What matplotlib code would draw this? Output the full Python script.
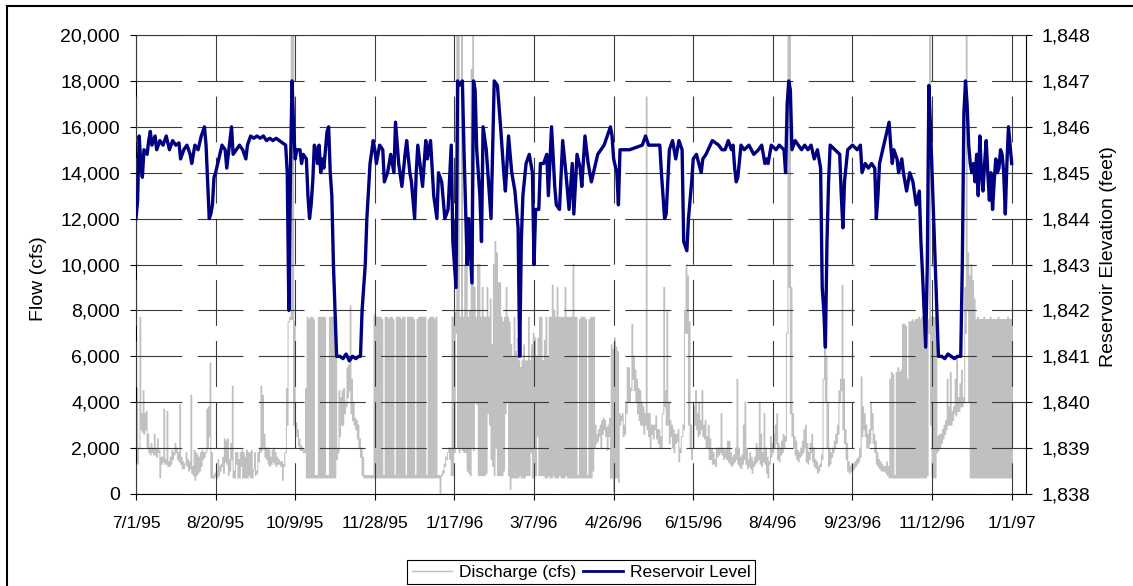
import numpy as np
import pandas as pd
import matplotlib
matplotlib.use("Agg")
import matplotlib.pyplot as plt
from matplotlib.lines import Line2D
from matplotlib.ticker import FuncFormatter

plt.rcParams["font.family"] = ["Liberation Sans", "DejaVu Sans"]
plt.rcParams["lines.scale_dashes"] = False

START = "1995-07-01"

# daily discharge, low / high of the day, in 1000 cfs (day 0 = 7/1/95)
flow_lo = [
    1.5, 1.3, 2.0, 2.8, 2.7, 2.6, 2.8, 2.0, 1.8, 1.7,   # 0
    1.8, 1.7, 1.7, 1.6, 1.8, 0.7, 1.3, 1.4, 1.3, 1.3,   # 10
    1.2, 1.2, 1.3, 1.5, 1.7, 1.8, 1.5, 1.4, 1.3, 1.1,   # 20
    1.1, 1.3, 1.2, 1.0, 1.1, 0.9, 0.8, 0.6, 0.8, 0.9,   # 30
    1.0, 1.2, 1.5, 1.6, 1.8, 2.0, 2.5, 0.7, 0.7, 0.7,   # 40
    0.8, 0.7, 0.8, 1.0, 1.2, 0.9, 1.4, 1.3, 0.8, 1.0,   # 50
    1.5, 0.7, 0.7, 1.3, 0.7, 0.7, 1.2, 0.7, 0.7, 0.7,   # 60
    0.7, 0.8, 0.7, 0.7, 1.1, 0.8, 0.9, 1.4, 1.8, 1.9,   # 70
    2.0, 1.6, 1.5, 1.3, 1.2, 1.3, 1.4, 1.3, 1.2, 1.3,   # 80
    1.3, 1.2, 0.6, 1.2, 1.8, 3.0, 7.5, 7.6, 7.6, 3.0,   # 90
    2.8, 2.5, 2.1, 1.9, 1.9, 1.8, 1.8, 0.7, 0.7, 0.7,   # 100
    0.7, 0.7, 0.7, 0.7, 0.7, 0.7, 0.7, 0.7, 0.7, 0.7,   # 110
    0.7, 0.7, 0.7, 0.7, 0.7, 0.7, 1.5, 1.8, 2.5, 3.0,   # 120
    3.0, 3.5, 3.8, 4.2, 4.5, 3.5, 3.2, 3.0, 2.8, 2.4,   # 130
    2.0, 1.6, 0.8, 0.7, 0.7, 0.7, 0.7, 0.7, 0.7, 0.7,   # 140
    0.7, 0.7, 0.7, 0.7, 0.7, 0.7, 0.7, 0.7, 0.7, 0.7,   # 150
    0.7, 0.7, 0.7, 0.7, 0.7, 0.7, 0.7, 0.7, 0.7, 0.7,   # 160
    0.7, 0.7, 0.7, 0.7, 0.7, 0.7, 0.7, 0.7, 0.7, 0.7,   # 170
    0.7, 0.7, 0.7, 0.7, 0.7, 0.7, 0.7, 0.7, 0.7, 0.7,   # 180
    0.7, 0.0, 0.8, 0.9, 1.2, 1.5, 1.8, 1.5, 0.8, 0.8,   # 190
    1.8, 7.0, 2.0, 1.8, 2.0, 1.9, 1.8, 1.8, 1.0, 0.9,   # 200
    0.8, 2.0, 1.9, 4.0, 3.9, 0.8, 0.8, 0.8, 0.8, 0.8,   # 210
    0.9, 3.5, 3.0, 1.5, 1.2, 0.8, 2.0, 0.8, 0.8, 0.8,   # 220
    0.8, 1.0, 3.5, 4.0, 0.8, 0.2, 0.7, 0.7, 0.7, 0.7,   # 230
    0.7, 0.8, 0.7, 0.7, 0.7, 0.8, 0.8, 0.8, 1.8, 0.7,   # 240
    0.7, 0.8, 2.5, 0.8, 0.8, 0.8, 0.8, 0.7, 0.7, 0.8,   # 250
    0.7, 0.7, 0.8, 0.7, 0.7, 0.7, 0.8, 0.7, 0.7, 0.7,   # 260
    0.8, 0.7, 0.7, 0.7, 0.7, 0.7, 0.7, 0.7, 0.7, 0.7,   # 270
    0.7, 0.7, 0.7, 0.7, 0.7, 0.7, 0.7, 1.0, 2.0, 2.2,   # 280
    2.3, 2.5, 2.0, 2.6, 2.8, 2.5, 1.9, 2.5, 0.7, 0.7,   # 290
    0.1, 0.7, 0.7, 0.5, 3.0, 3.2, 2.5, 2.6, 3.5, 4.0,   # 300
    4.0, 4.5, 5.0, 4.5, 4.0, 3.5, 3.2, 3.0, 3.0, 2.6,   # 310
    3.0, 2.8, 2.5, 2.0, 2.6, 2.4, 2.8, 2.4, 2.2, 2.0,   # 320
    2.0, 3.5, 3.8, 3.0, 3.0, 2.2, 2.5, 2.0, 1.8, 2.2,   # 330
    2.3, 1.4, 1.8, 2.5, 2.8, 7.0, 7.0, 3.0, 2.0, 1.5,   # 340
    2.0, 3.0, 2.8, 2.5, 2.6, 2.8, 2.5, 2.4, 2.0, 2.0,   # 350
    1.5, 1.5, 1.3, 1.3, 1.2, 1.6, 1.7, 1.8, 1.7, 1.5,   # 360
    1.6, 1.5, 1.4, 1.3, 1.2, 1.3, 1.4, 1.5, 1.3, 1.2,   # 370
    1.1, 1.3, 1.5, 1.3, 1.1, 1.2, 1.1, 0.9, 1.2, 1.3,   # 380
    1.4, 1.5, 1.3, 1.2, 1.4, 1.3, 0.9, 0.7, 1.3, 1.6,   # 390
    1.8, 2.0, 2.2, 1.5, 1.4, 1.7, 1.8, 2.0, 2.3, 7.0,   # 400
    9.0, 3.5, 2.5, 2.0, 1.7, 1.5, 1.4, 1.6, 1.7, 1.8,   # 410
    2.0, 1.4, 1.3, 1.5, 1.8, 1.4, 1.2, 1.1, 0.9, 1.0,   # 420
    1.2, 1.5, 5.0, 4.0, 2.0, 1.2, 1.3, 1.6, 1.8, 2.0,   # 430
    2.2, 2.6, 4.0, 4.5, 2.8, 2.2, 1.5, 1.0, 0.9, 1.0,   # 440
    1.0, 1.1, 1.2, 1.3, 1.4, 1.6, 2.5, 2.8, 2.5, 2.0,   # 450
    2.0, 2.2, 2.8, 2.2, 1.8, 1.3, 1.2, 1.1, 1.0, 1.0,   # 460
    1.0, 0.9, 0.8, 0.7, 0.7, 0.7, 0.7, 0.7, 0.7, 0.7,   # 470
    0.7, 0.7, 0.7, 0.7, 0.7, 0.7, 0.7, 0.7, 0.7, 0.7,   # 480
    0.7, 0.7, 0.7, 0.7, 0.7, 0.7, 0.7, 0.8, 7.0, 3.0,   # 490
    0.8, 0.7, 0.7, 1.8, 1.9, 2.0, 2.2, 2.4, 2.6, 2.8,   # 500
    3.0, 3.0, 3.0, 3.2, 3.5, 3.4, 3.6, 3.6, 3.8, 3.8,   # 510
    4.0, 7.0, 8.0, 4.0, 0.7, 0.7, 0.7, 0.7, 0.7, 0.7,   # 520
    0.7, 0.7, 0.7, 0.7, 0.7, 0.7, 0.7, 0.7, 0.7, 0.7,   # 530
    0.7, 0.7, 0.7, 0.7, 0.7, 0.7, 0.7, 0.7, 0.7, 0.7,   # 540
    0.7,                                                # 550
]
flow_hi = [
    4.6, 2.0, 7.7, 3.5, 4.5, 3.5, 3.6, 2.6, 2.0, 2.2,   # 0
    2.0, 2.6, 2.0, 2.4, 1.9, 1.6, 1.6, 3.7, 1.5, 3.6,   # 10
    1.4, 1.6, 1.9, 1.8, 2.2, 2.0, 1.8, 3.9, 1.6, 1.4,   # 20
    1.3, 1.8, 1.5, 1.4, 4.3, 1.2, 1.9, 1.8, 1.7, 1.6,   # 30
    1.8, 1.9, 1.8, 1.8, 3.7, 3.8, 5.7, 1.8, 0.8, 0.9,   # 40
    1.0, 1.5, 1.2, 1.3, 1.6, 2.4, 2.3, 2.4, 1.5, 2.2,   # 50
    4.7, 1.0, 1.8, 1.8, 1.5, 1.8, 1.9, 1.8, 1.6, 1.9,   # 60
    1.8, 1.8, 1.9, 1.0, 1.8, 1.0, 1.8, 2.0, 4.7, 4.3,   # 70
    2.6, 2.0, 2.0, 1.9, 1.6, 1.9, 2.0, 1.8, 1.6, 1.5,   # 80
    1.4, 1.4, 1.3, 1.8, 4.6, 7.5, 7.7, 22, 22, 7.5,     # 90
    3.1, 2.8, 2.4, 2.1, 2.0, 1.9, 4.6, 7.7, 7.6, 7.7,   # 100
    7.7, 7.6, 0.8, 0.8, 7.7, 7.7, 7.7, 7.7, 7.7, 0.8,   # 110
    0.8, 7.7, 7.7, 7.7, 7.7, 7.6, 2.0, 4.5, 4.2, 4.5,   # 120
    4.6, 4.0, 5.5, 5.6, 8.2, 5.0, 4.0, 3.3, 3.2, 3.0,   # 130
    2.4, 2.0, 1.6, 0.8, 0.8, 0.8, 0.8, 0.8, 0.8, 7.8,   # 140
    7.7, 7.7, 7.7, 7.7, 7.6, 0.8, 7.7, 7.7, 7.6, 7.7,   # 150
    7.7, 7.6, 0.8, 7.7, 7.7, 7.7, 7.6, 7.7, 7.7, 0.8,   # 160
    7.7, 7.7, 7.7, 7.7, 7.6, 0.8, 7.6, 7.7, 7.7, 7.7,   # 170
    7.7, 7.7, 0.8, 7.6, 7.7, 7.7, 7.7, 7.6, 7.7, 0.8,   # 180
    0.8, 0.8, 1.0, 1.3, 1.6, 1.8, 2.0, 2.0, 7.7, 7.7,   # 190
    7.9, 22, 22, 7.7, 22, 7.7, 10.0, 10.0, 7.7, 8.0,    # 200
    18.5, 22, 9.0, 7.7, 10.0, 10.0, 7.7, 9.0, 7.7, 7.7, # 210
    9.0, 7.7, 8.5, 6.5, 10.0, 11.0, 10.5, 9.2, 9.2, 7.7,  # 220
    7.5, 7.7, 9.0, 7.7, 7.5, 6.5, 6.0, 7.7, 6.2, 6.8,   # 230
    5.8, 5.5, 5.8, 6.5, 5.8, 5.8, 7.7, 5.8, 6.5, 7.0,   # 240
    6.8, 6.0, 6.8, 7.7, 7.7, 5.8, 6.7, 7.7, 6.0, 7.7,   # 250
    7.7, 9.1, 8.0, 7.7, 9.0, 7.7, 7.7, 7.7, 7.7, 9.0,   # 260
    7.7, 7.7, 7.7, 7.7, 10.0, 7.7, 7.7, 0.8, 7.6, 7.7,  # 270
    7.7, 7.7, 7.6, 0.8, 7.6, 7.7, 7.7, 7.7, 3.0, 2.6,   # 280
    2.8, 3.0, 3.2, 3.3, 3.2, 2.9, 3.0, 3.3, 6.5, 6.3,   # 290
    6.8, 6.4, 6.2, 3.5, 3.4, 3.5, 3.0, 4.0, 5.5, 5.5,   # 300
    4.6, 7.4, 6.0, 5.4, 5.0, 4.6, 4.5, 4.0, 3.8, 3.5,   # 310
    17.3, 3.5, 3.5, 3.0, 3.0, 3.0, 3.4, 2.8, 2.8, 2.5,  # 320
    3.5, 9.0, 4.5, 8.0, 4.0, 3.2, 3.0, 2.8, 2.6, 2.6,   # 330
    2.8, 2.0, 2.5, 3.0, 8.0, 10.0, 9.5, 7.5, 3.0, 2.0,  # 340
    3.8, 4.5, 3.5, 4.0, 3.2, 4.5, 3.0, 3.2, 2.5, 3.0,   # 350
    2.4, 2.0, 1.8, 1.5, 2.0, 2.0, 2.0, 3.5, 2.0, 1.9,   # 360
    2.0, 2.3, 2.3, 1.8, 1.6, 1.7, 2.0, 5.0, 2.0, 1.6,   # 370
    1.7, 3.0, 4.0, 2.0, 1.5, 1.8, 1.6, 1.4, 1.6, 2.2,   # 380
    2.0, 4.0, 2.6, 1.8, 3.5, 2.0, 1.6, 1.4, 2.5, 2.2,   # 390
    2.6, 3.0, 3.5, 2.2, 2.0, 2.3, 2.6, 2.5, 7.0, 22,    # 400
    22, 9.0, 3.5, 2.5, 2.3, 1.9, 1.8, 2.0, 2.3, 2.8,    # 410
    3.0, 2.2, 1.8, 2.2, 2.6, 2.0, 1.5, 1.4, 1.2, 1.3,   # 420
    1.7, 5.0, 7.8, 6.0, 4.0, 2.0, 1.8, 2.0, 2.3, 2.6,   # 430
    3.0, 4.5, 5.0, 9.1, 5.0, 2.8, 2.2, 1.4, 1.2, 1.3,   # 440
    1.3, 1.4, 1.5, 1.6, 2.0, 5.1, 3.8, 3.5, 3.0, 2.6,   # 450
    2.8, 4.0, 3.5, 2.6, 2.3, 1.8, 1.5, 1.4, 1.3, 1.2,   # 460
    1.2, 1.4, 1.2, 5.0, 5.3, 5.2, 0.8, 5.3, 5.5, 5.3,   # 470
    5.4, 7.4, 7.4, 7.3, 5.0, 7.5, 7.5, 7.6, 7.5, 7.6,   # 480
    7.6, 7.7, 7.6, 7.7, 7.6, 7.7, 7.7, 7.6, 22, 7.7,    # 490
    7.7, 7.7, 7.5, 2.5, 2.6, 2.6, 2.8, 3.0, 3.2, 5.0,   # 500
    3.8, 5.3, 3.6, 3.8, 5.0, 6.0, 4.2, 4.8, 5.4, 4.2,   # 510
    9.0, 22, 10.5, 9.5, 10.0, 9.3, 8.5, 7.6, 7.7, 7.6,  # 520
    7.6, 7.6, 7.7, 7.6, 7.6, 7.6, 7.7, 7.6, 7.6, 7.6,   # 530
    7.6, 7.7, 7.6, 7.6, 7.6, 7.6, 7.6, 7.7, 7.6, 7.6,   # 540
    7.6,                                                # 550
]

# reservoir level readings (day offset from 7/1/95, feet)
level_day = [
    0, 1, 2, 3, 4, 5, 7, 8, 9, 10, 12, 13, 15, 17, 19, 21, 23, 25, 27, 28,
    30, 32, 34, 35, 37, 39, 41, 43, 44, 45, 46, 47, 48, 49, 50, 52, 54, 56, 57, 58,
    60, 61, 63, 65, 67, 69, 70, 72, 74, 76, 78, 80, 82, 84, 86, 88, 90, 92, 94, 95,
    96, 97, 98, 99, 100, 101, 103, 104, 105, 107, 108, 109, 110, 111, 112, 113, 114, 115, 116, 117,
    118, 120, 121, 122, 123, 124, 125, 126, 128, 130, 132, 134, 136, 138, 140, 141, 142, 144, 145, 147,
    149, 150, 151, 153, 155, 156, 158, 160, 162, 163, 165, 167, 169, 170, 172, 173, 175, 176, 177, 179,
    180, 182, 183, 185, 187, 189, 190, 192, 194, 196, 198, 199, 201, 202, 203, 205, 206, 208, 209, 211,
    212, 213, 214, 216, 217, 218, 220, 222, 223, 225, 227, 229, 231, 232, 234, 236, 238, 239, 240, 241,
    242, 243, 245, 247, 249, 250, 251, 253, 254, 256, 258, 259, 261, 263, 264, 266, 268, 270, 272, 274,
    275, 277, 279, 280, 282, 284, 286, 288, 290, 292, 294, 296, 298, 299, 300, 302, 303, 304, 306, 310,
    314, 318, 320, 322, 326, 329, 330, 332, 333, 335, 337, 339, 341, 343, 344, 346, 347, 349, 350, 352,
    355, 356, 358, 362, 366, 368, 370, 372, 374, 375, 376, 377, 378, 380, 382, 385, 388, 391, 393, 395,
    396, 397, 399, 402, 404, 407, 408, 409, 410, 411, 412, 414, 416, 418, 420, 422, 424, 426, 428, 430,
    431, 432, 433, 434, 435, 436, 439, 442, 443, 444, 445, 447, 450, 453, 455, 456, 458, 460, 462, 464,
    465, 466, 467, 469, 471, 473, 474, 475, 476, 478, 479, 481, 482, 484, 486, 488, 490, 492, 493, 494,
    496, 497, 498, 499, 500, 501, 502, 503, 504, 506, 508, 510, 512, 514, 516, 518, 519, 520, 521, 522,
    523, 524, 525, 526, 527, 528, 529, 530, 531, 532, 533, 534, 535, 536, 537, 538, 539, 540, 541, 542,
    543, 544, 545, 546, 547, 548, 549, 550,
]
level_ft = [
    1844.0, 1844.4, 1845.8, 1845.2, 1844.9, 1845.5, 1845.4, 1845.7, 1845.9, 1845.6,
    1845.8, 1845.5, 1845.7, 1845.6, 1845.8, 1845.5, 1845.7, 1845.6, 1845.65, 1845.3,
    1845.5, 1845.6, 1845.4, 1845.2, 1845.6, 1845.5, 1845.8, 1846.0, 1845.6, 1844.8,
    1844.0, 1844.1, 1844.3, 1844.9, 1845.0, 1845.3, 1845.6, 1845.5, 1845.1, 1845.4,
    1846.0, 1845.4, 1845.5, 1845.6, 1845.5, 1845.3, 1845.6, 1845.8, 1845.75, 1845.8,
    1845.75, 1845.8, 1845.7, 1845.75, 1845.7, 1845.75, 1845.7, 1845.65, 1845.6, 1845.0,
    1842.0, 1845.0, 1847.0, 1846.0, 1845.3, 1845.5, 1845.5, 1845.2, 1845.4, 1845.3,
    1844.5, 1844.0, 1844.3, 1844.8, 1845.6, 1845.5, 1845.2, 1845.6, 1845.0, 1845.3,
    1845.1, 1845.9, 1846.0, 1845.0, 1844.5, 1843.0, 1842.0, 1841.0, 1841.0, 1840.95,
    1841.05, 1840.9, 1841.0, 1840.95, 1841.0, 1841.0, 1842.0, 1843.0, 1844.0, 1845.2,
    1845.7, 1845.5, 1845.2, 1845.6, 1845.5, 1844.8, 1845.0, 1845.4, 1845.0, 1846.1,
    1845.2, 1844.7, 1845.4, 1845.7, 1845.0, 1844.8, 1844.0, 1845.0, 1845.6, 1845.0,
    1844.7, 1845.7, 1845.3, 1845.7, 1844.5, 1844.0, 1845.0, 1844.8, 1844.0, 1844.2,
    1845.6, 1843.5, 1842.5, 1847.0, 1846.9, 1847.0, 1845.5, 1843.0, 1844.0, 1842.6,
    1847.0, 1846.8, 1845.5, 1844.5, 1843.5, 1846.0, 1845.5, 1844.5, 1844.0, 1847.0,
    1846.9, 1846.0, 1845.0, 1844.6, 1845.8, 1845.0, 1844.6, 1844.2, 1843.8, 1841.0,
    1843.5, 1844.5, 1845.2, 1845.4, 1845.0, 1843.0, 1844.2, 1844.2, 1845.2, 1845.2,
    1845.4, 1844.5, 1846.0, 1844.7, 1844.3, 1844.2, 1845.7, 1845.0, 1844.2, 1845.2,
    1844.1, 1845.4, 1845.1, 1844.7, 1845.8, 1845.2, 1844.8, 1845.1, 1845.4, 1845.5,
    1845.6, 1845.8, 1846.0, 1845.8, 1845.3, 1845.0, 1844.3, 1845.5, 1845.5, 1845.5,
    1845.55, 1845.6, 1845.8, 1845.6, 1845.6, 1845.6, 1845.0, 1844.0, 1844.1, 1845.5,
    1845.7, 1845.3, 1845.7, 1845.5, 1843.5, 1843.3, 1844.0, 1844.8, 1845.3, 1845.4,
    1845.0, 1845.3, 1845.4, 1845.7, 1845.6, 1845.5, 1845.5, 1845.7, 1845.5, 1845.6,
    1845.1, 1844.8, 1844.9, 1845.6, 1845.5, 1845.6, 1845.4, 1845.5, 1845.6, 1845.2,
    1845.3, 1845.2, 1845.6, 1845.5, 1845.6, 1845.5, 1845.0, 1846.5, 1847.0, 1846.8,
    1845.5, 1845.7, 1845.6, 1845.5, 1845.6, 1845.5, 1845.6, 1845.3, 1845.5, 1845.1,
    1842.5, 1842.0, 1841.2, 1843.5, 1844.8, 1845.6, 1845.5, 1845.4, 1844.5, 1843.8,
    1844.8, 1845.5, 1845.6, 1845.5, 1845.6, 1845.0, 1845.2, 1845.1, 1845.2, 1845.1,
    1844.0, 1844.5, 1845.2, 1845.5, 1845.8, 1846.1, 1845.6, 1845.2, 1845.5, 1845.3,
    1845.0, 1845.3, 1845.0, 1844.6, 1845.0, 1844.8, 1844.3, 1844.6, 1843.5, 1842.8,
    1841.2, 1843.0, 1846.9, 1846.0, 1845.0, 1844.0, 1843.0, 1842.0, 1841.0, 1841.0,
    1840.95, 1841.05, 1841.0, 1840.95, 1841.0, 1841.0, 1843.0, 1846.3, 1847.0, 1846.5,
    1845.6, 1845.2, 1845.0, 1845.2, 1844.8, 1845.4, 1844.5, 1845.8, 1845.0, 1844.6,
    1845.2, 1845.7, 1845.0, 1844.4, 1845.0, 1844.2, 1844.8, 1845.3, 1845.0, 1845.1,
    1845.5, 1845.4, 1845.0, 1844.1, 1845.2, 1846.0, 1845.6, 1845.2,
]

tick_dates = pd.date_range(START, "1997-01-01", freq="50D")

assert len(flow_lo) == len(flow_hi) == 551, (len(flow_lo), len(flow_hi))
assert len(level_day) == len(level_ft), (len(level_day), len(level_ft))

W, H = 1133, 586
fig = plt.figure(figsize=(W / 100, H / 100), dpi=100)
ax = fig.add_axes([136 / W, 1 - 494 / H, 890 / W, 459 / H])
ax2 = ax.twinx()

# discharge as a step trace: low for the first half of each day, high for the second
days = np.arange(len(flow_lo))
t = np.column_stack([days, days + 0.5]).ravel()
q = np.column_stack([flow_lo, flow_hi]).ravel() * 1000
ax.plot(t, q, drawstyle="steps-post", color="#c0c0c0", lw=0.75, zorder=2)

tick_days = [(d - pd.Timestamp(START)).days for d in tick_dates]

# dashed grid like the spreadsheet original
for yv in range(0, 20001, 2000):
    ax.axhline(yv, color="#3a3a3a", lw=0.8, dashes=(33, 11), zorder=3)
for xd in tick_days:
    ax.axvline(xd, ymin=1, ymax=0, color="#3a3a3a", lw=0.8, dashes=(33, 11), zorder=3)

ax2.plot(level_day, level_ft, color="#000080", lw=2.4, zorder=4)

ax.set_xlim(0, 559)
ax.set_ylim(0, 20000)
ax2.set_ylim(1838, 1848)
ax.set_yticks(range(0, 20001, 2000))
ax2.set_yticks(range(1838, 1849))
ax.yaxis.set_major_formatter(FuncFormatter(lambda v, p: f"{v:,.0f}"))
ax2.yaxis.set_major_formatter(FuncFormatter(lambda v, p: f"{v:,.0f}"))
ax.set_xticks(tick_days)
ax.set_xticklabels([f"{d.month}/{d.day}/{d.year % 100:02d}" for d in tick_dates])

ax.tick_params(axis="y", direction="out", length=4.5, width=0.8, pad=7, labelsize=14)
ax.tick_params(axis="x", direction="out", length=4.5, width=0.8, pad=11, labelsize=12.5)
ax2.tick_params(axis="y", direction="out", length=4.5, width=0.8, pad=7, labelsize=14)

for a in (ax, ax2):
    for s in a.spines.values():
        s.set_color("black")
        s.set_linewidth(0.8)
ax.spines["right"].set_visible(False)
ax2.spines["left"].set_visible(False)
ax2.spines["bottom"].set_visible(False)
ax2.spines["top"].set_visible(False)
ax.spines["top"].set_color("#3a3a3a")

ax.set_ylabel("Flow (cfs)", fontsize=14)
ax.yaxis.set_label_coords((47 - 136) / 890, 0.4695)
ax2.set_ylabel("Reservoir Elevation (feet)", fontsize=14)
ax2.yaxis.set_label_coords((1100 - 136) / 890, 0.517)

handles = [Line2D([], [], color="#c0c0c0", lw=1.0),
           Line2D([], [], color="#000080", lw=2.0)]
leg = fig.legend(handles, ["Discharge (cfs)", "Reservoir Level"],
                 loc="center", bbox_to_anchor=(581 / W, 1 - 572 / H), ncol=2,
                 fontsize=12.5, frameon=True, fancybox=False, edgecolor="black",
                 framealpha=1, handlelength=2.3, handletextpad=0.4,
                 columnspacing=0.4, borderpad=0.25, borderaxespad=0)
leg.get_frame().set_linewidth(0.8)

# outer chart border (only left and top fall inside the picture)
fig.add_artist(Line2D([7 / W, 7 / W], [0, 1 - 6 / H], transform=fig.transFigure,
                      color="black", lw=1.5))
fig.add_artist(Line2D([7 / W, 1], [1 - 6 / H, 1 - 6 / H], transform=fig.transFigure,
                      color="black", lw=1.5))

fig.savefig("out.png", dpi=100)
